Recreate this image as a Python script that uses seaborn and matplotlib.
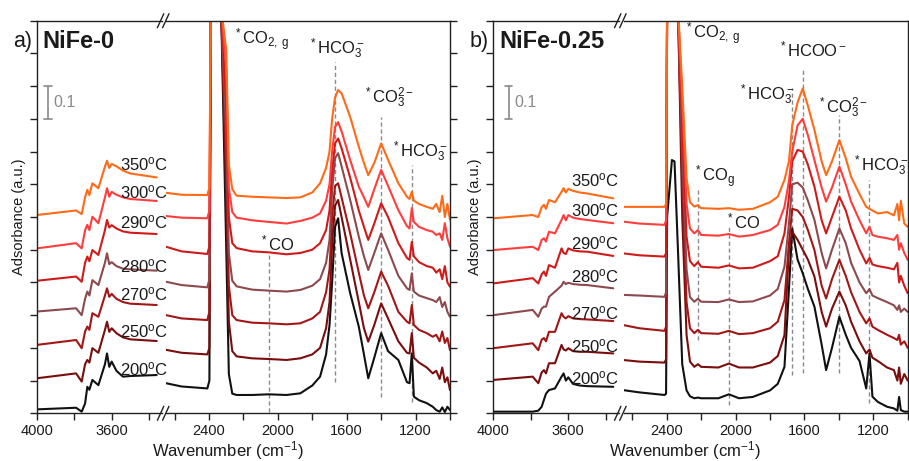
import matplotlib
matplotlib.use("Agg")
import matplotlib.pyplot as plt
from matplotlib.lines import Line2D
import pandas as pd
import seaborn as sns

# ---------------------------------------------------------------- data
temperatures = ["200", "250", "270", "280", "290", "300", "350"]
line_colors = ["#111111", "#7a0d0d", "#a31616", "#8c4a4f", "#d01a1a", "#ff3d3d", "#ff6a16"]

# high-wavenumber window (O-H region), shared by both samples
wn_hi = [4000, 3790, 3760, 3742, 3730, 3719, 3703, 3671, 3636, 3625, 3613, 3600, 3575, 3540, 3500, 3360]

nife0_hi = {
    "350": [0.606, 0.620, 0.609, 0.660, 0.683, 0.667, 0.703, 0.688, 0.754, 0.772, 0.750, 0.762, 0.755, 0.742, 0.733, 0.721],
    "300": [0.504, 0.520, 0.504, 0.560, 0.576, 0.560, 0.601, 0.581, 0.660, 0.688, 0.662, 0.677, 0.668, 0.660, 0.655, 0.649],
    "290": [0.405, 0.418, 0.402, 0.460, 0.479, 0.465, 0.499, 0.484, 0.560, 0.591, 0.568, 0.575, 0.565, 0.556, 0.552, 0.548],
    "280": [0.311, 0.321, 0.300, 0.350, 0.372, 0.360, 0.407, 0.392, 0.460, 0.489, 0.456, 0.462, 0.450, 0.442, 0.440, 0.436],
    "270": [0.209, 0.224, 0.199, 0.250, 0.265, 0.255, 0.306, 0.295, 0.360, 0.382, 0.356, 0.365, 0.350, 0.340, 0.335, 0.331],
    "250": [0.107, 0.122, 0.097, 0.150, 0.163, 0.155, 0.199, 0.185, 0.255, 0.280, 0.249, 0.260, 0.245, 0.232, 0.226, 0.221],
    "200": [0.012, 0.017, 0.005, 0.030, 0.081, 0.072, 0.102, 0.086, 0.150, 0.183, 0.142, 0.158, 0.130, 0.112, 0.114, 0.117],
}

nife025_hi = {
    "350": [0.596, 0.606, 0.600, 0.630, 0.637, 0.625, 0.652, 0.645, 0.677, 0.688, 0.675, 0.686, 0.680, 0.675, 0.672, 0.657],
    "300": [0.499, 0.509, 0.499, 0.530, 0.535, 0.525, 0.555, 0.550, 0.591, 0.606, 0.590, 0.606, 0.598, 0.594, 0.591, 0.581],
    "290": [0.397, 0.413, 0.397, 0.425, 0.433, 0.420, 0.453, 0.445, 0.504, 0.490, 0.487, 0.504, 0.498, 0.495, 0.494, 0.481],
    "280": [0.300, 0.316, 0.295, 0.320, 0.326, 0.326, 0.356, 0.372, 0.390, 0.402, 0.395, 0.399, 0.395, 0.393, 0.392, 0.382],
    "270": [0.199, 0.214, 0.193, 0.225, 0.230, 0.220, 0.249, 0.249, 0.306, 0.295, 0.290, 0.297, 0.290, 0.288, 0.287, 0.282],
    "250": [0.102, 0.112, 0.092, 0.125, 0.132, 0.122, 0.153, 0.153, 0.209, 0.195, 0.192, 0.199, 0.190, 0.188, 0.188, 0.183],
    "200": [0.005, 0.005, 0.008, 0.020, 0.041, 0.060, 0.071, 0.076, 0.112, 0.122, 0.100, 0.110, 0.090, 0.085, 0.083, 0.081],
}

# low-wavenumber window (carbonate / CO region)
wn_lo_a = [2650, 2560, 2410, 2398, 2390, 2330, 2300, 2285, 2265, 2240, 2150, 2054, 1950, 1870, 1800, 1755,
           1720, 1700, 1685, 1668, 1650, 1630, 1580, 1530, 1500, 1475, 1440, 1400, 1360, 1300, 1250, 1235,
           1222, 1210, 1180, 1135, 1100, 1080, 1060, 1045, 1030, 1015, 1000]

nife0_lo = {
    "350": [0.674, 0.668, 0.667, 0.690, 1.24, 1.24, 1.11, 0.76, 0.685, 0.665, 0.662, 0.660, 0.658, 0.660, 0.675, 0.703,
            0.750, 0.800, 0.900, 0.965, 0.988, 0.978, 0.906, 0.815, 0.765, 0.728, 0.765, 0.825, 0.775, 0.703, 0.662, 0.655,
            0.677, 0.650, 0.640, 0.631, 0.625, 0.640, 0.615, 0.665, 0.600, 0.640, 0.591],
    "300": [0.603, 0.598, 0.596, 0.620, 1.24, 1.24, 1.05, 0.69, 0.615, 0.598, 0.590, 0.585, 0.580, 0.588, 0.598, 0.611,
            0.650, 0.700, 0.800, 0.875, 0.890, 0.862, 0.774, 0.693, 0.660, 0.631, 0.685, 0.744, 0.695, 0.621, 0.572, 0.565,
            0.627, 0.585, 0.570, 0.560, 0.555, 0.545, 0.550, 0.530, 0.581, 0.535, 0.509],
    "290": [0.509, 0.495, 0.487, 0.510, 1.24, 1.24, 0.95, 0.60, 0.520, 0.505, 0.495, 0.492, 0.486, 0.490, 0.500, 0.520,
            0.560, 0.620, 0.740, 0.825, 0.840, 0.810, 0.720, 0.620, 0.570, 0.530, 0.580, 0.642, 0.600, 0.520, 0.475, 0.469,
            0.524, 0.480, 0.462, 0.450, 0.445, 0.430, 0.440, 0.410, 0.450, 0.400, 0.387],
    "280": [0.402, 0.392, 0.385, 0.410, 1.24, 1.24, 0.85, 0.49, 0.405, 0.388, 0.378, 0.375, 0.372, 0.377, 0.390, 0.410,
            0.460, 0.530, 0.680, 0.780, 0.795, 0.755, 0.652, 0.540, 0.480, 0.438, 0.490, 0.550, 0.500, 0.420, 0.382, 0.377,
            0.428, 0.372, 0.360, 0.352, 0.346, 0.340, 0.355, 0.325, 0.340, 0.310, 0.295],
    "270": [0.300, 0.290, 0.285, 0.310, 1.24, 1.24, 0.75, 0.39, 0.300, 0.285, 0.277, 0.275, 0.272, 0.275, 0.290, 0.310,
            0.370, 0.440, 0.600, 0.695, 0.703, 0.660, 0.550, 0.430, 0.360, 0.321, 0.370, 0.433, 0.390, 0.310, 0.280, 0.275,
            0.331, 0.270, 0.255, 0.245, 0.234, 0.240, 0.220, 0.250, 0.215, 0.230, 0.193],
    "250": [0.194, 0.185, 0.180, 0.200, 1.24, 1.24, 0.65, 0.28, 0.190, 0.174, 0.168, 0.166, 0.163, 0.168, 0.180, 0.200,
            0.260, 0.340, 0.520, 0.635, 0.652, 0.600, 0.470, 0.340, 0.260, 0.219, 0.270, 0.336, 0.290, 0.220, 0.185, 0.183,
            0.245, 0.170, 0.155, 0.140, 0.122, 0.130, 0.105, 0.140, 0.095, 0.110, 0.071],
    "200": [0.092, 0.082, 0.076, 0.100, 1.24, 1.24, 0.50, 0.12, 0.060, 0.056, 0.056, 0.058, 0.056, 0.061, 0.085, 0.112,
            0.180, 0.270, 0.400, 0.570, 0.596, 0.490, 0.367, 0.265, 0.180, 0.107, 0.170, 0.245, 0.190, 0.163, 0.095, 0.092,
            0.183, 0.051, 0.040, 0.031, 0.020, 0.010, 0.005, 0.018, 0.004, 0.020, 0.010],
}

wn_lo_b = [2655, 2560, 2413, 2404, 2398, 2370, 2355, 2335, 2310, 2285, 2265, 2240, 2219, 2200, 2100, 2039,
           1980, 1900, 1800, 1755, 1716, 1690, 1671, 1640, 1610, 1580, 1542, 1500, 1474, 1440, 1397, 1360,
           1329, 1280, 1241, 1222, 1205, 1174, 1120, 1080, 1060, 1050, 1040, 1020, 1000]

nife025_lo = {
    "350": [0.631, 0.631, 0.631, 0.640, 1.24, 1.24, 1.24, 1.24, 1.00, 0.72, 0.645, 0.632, 0.636, 0.627, 0.625, 0.627,
            0.622, 0.625, 0.645, 0.662, 0.713, 0.770, 0.880, 0.950, 0.993, 0.940, 0.866, 0.770, 0.728, 0.770, 0.835, 0.780,
            0.723, 0.670, 0.631, 0.625, 0.620, 0.611, 0.615, 0.605, 0.640, 0.590, 0.650, 0.580, 0.570],
    "300": [0.586, 0.580, 0.576, 0.590, 1.24, 1.24, 1.24, 1.24, 0.95, 0.64, 0.565, 0.550, 0.560, 0.545, 0.543, 0.548,
            0.540, 0.545, 0.560, 0.576, 0.631, 0.710, 0.800, 0.880, 0.900, 0.850, 0.774, 0.690, 0.647, 0.690, 0.754, 0.700,
            0.647, 0.590, 0.550, 0.570, 0.545, 0.540, 0.535, 0.530, 0.545, 0.500, 0.520, 0.490, 0.469],
    "290": [0.489, 0.483, 0.479, 0.490, 1.24, 1.24, 1.24, 1.24, 0.88, 0.54, 0.465, 0.450, 0.462, 0.448, 0.445, 0.452,
            0.443, 0.445, 0.465, 0.480, 0.550, 0.660, 0.770, 0.805, 0.800, 0.760, 0.693, 0.590, 0.550, 0.600, 0.662, 0.620,
            0.565, 0.500, 0.458, 0.475, 0.455, 0.450, 0.445, 0.440, 0.460, 0.400, 0.420, 0.390, 0.367],
    "280": [0.362, 0.360, 0.356, 0.370, 1.24, 1.24, 1.24, 1.24, 0.80, 0.44, 0.355, 0.341, 0.350, 0.341, 0.340, 0.348,
            0.340, 0.342, 0.360, 0.380, 0.448, 0.580, 0.700, 0.705, 0.690, 0.650, 0.591, 0.490, 0.443, 0.500, 0.565, 0.520,
            0.460, 0.400, 0.367, 0.380, 0.360, 0.352, 0.340, 0.330, 0.316, 0.330, 0.310, 0.320, 0.310],
    "270": [0.270, 0.260, 0.252, 0.265, 1.24, 1.24, 1.24, 1.24, 0.72, 0.34, 0.260, 0.245, 0.255, 0.245, 0.243, 0.252,
            0.242, 0.245, 0.260, 0.280, 0.346, 0.520, 0.625, 0.620, 0.600, 0.560, 0.499, 0.390, 0.351, 0.410, 0.469, 0.420,
            0.370, 0.310, 0.275, 0.290, 0.265, 0.255, 0.240, 0.230, 0.224, 0.240, 0.210, 0.220, 0.200],
    "250": [0.163, 0.158, 0.155, 0.165, 1.24, 1.24, 1.24, 1.24, 0.60, 0.24, 0.158, 0.142, 0.150, 0.142, 0.140, 0.152,
            0.140, 0.140, 0.155, 0.175, 0.239, 0.500, 0.555, 0.530, 0.500, 0.470, 0.418, 0.310, 0.265, 0.320, 0.372, 0.330,
            0.280, 0.220, 0.183, 0.195, 0.170, 0.160, 0.140, 0.132, 0.100, 0.140, 0.090, 0.120, 0.100],
    "200": [0.071, 0.064, 0.056, 0.060, 0.600, 0.774, 0.770, 0.500, 0.150, 0.070, 0.052, 0.046, 0.048, 0.046, 0.046, 0.058,
            0.046, 0.050, 0.070, 0.090, 0.142, 0.380, 0.565, 0.470, 0.428, 0.380, 0.326, 0.210, 0.132, 0.200, 0.295, 0.240,
            0.200, 0.160, 0.076, 0.183, 0.051, 0.035, 0.020, 0.015, 0.008, 0.050, 0.010, 0.005, 0.005],
}

# temperature tags next to the O-H window (absorbance of the text anchor)
temp_label_pos_a = {"350": 0.762, "300": 0.677, "290": 0.585, "280": 0.450, "270": 0.365, "250": 0.250, "200": 0.134}
temp_label_pos_b = {"350": 0.713, "300": 0.621, "290": 0.520, "280": 0.418, "270": 0.306, "250": 0.206, "200": 0.107}

# band assignments: wavenumber, top and bottom of the guide line
bands_a = [(1668, 1.074, 0.096), (1400, 0.906, 0.050), (1222, 0.759, 0.035), (2054, 0.493, 0.004)]
bands_b = [(2219, 0.689, 0.224), (2039, 0.569, 0.025), (1671, 0.994, 0.117),
           (1606, 1.049, 0.123), (1397, 0.912, 0.123), (1222, 0.713, 0.032)]

labels_a = [(2262, 1.141, "$^*$CO$_{2,\\ g}$", "left"), (1659, 1.115, "$^*$HCO$_3^-$", "center"),
            (1357, 0.965, "$^*$CO$_3^{2-}$", "center"), (1180, 0.800, "$^*$HCO$_3^-$", "center"),
            (2010, 0.520, "$^*$CO", "center")]
labels_b = [(2299, 1.160, "$^*$CO$_{2,\\ g}$", "left"), (1555, 1.112, "$^*$HCOO$^-$", "center"),
            (1822, 0.975, "$^*$HCO$_3^-$", "center"), (1381, 0.935, "$^*$CO$_3^{2-}$", "center"),
            (1162, 0.758, "$^*$HCO$_3^-$", "center"), (2127, 0.722, "$^*$CO$_g$", "center"),
            (1962, 0.585, "$^*$CO", "center")]

scale_bar = 0.1

# ---------------------------------------------------------------- style
sns.set_theme(style="ticks")
plt.rcParams["font.family"] = ["Liberation Sans", "DejaVu Sans"]
plt.rcParams["mathtext.fontset"] = "custom"
plt.rcParams["mathtext.rm"] = "Liberation Sans"
plt.rcParams["mathtext.it"] = "Liberation Sans:italic"
plt.rcParams["mathtext.bf"] = "Liberation Sans:bold"
plt.rcParams["mathtext.default"] = "regular"

W, H = 909, 461
AX_TOP, AX_BOT = 20.7, 413.3
TXT = "#1a1a1a"
GUIDE = "#8a8a8a"

fig = plt.figure(figsize=(W / 100, H / 100), dpi=100)


def axes_px(x0, x1):
    return fig.add_axes([x0 / W, (H - AX_BOT) / H, (x1 - x0) / W, (AX_BOT - AX_TOP) / H])


def long_frame(wn, series):
    frames = []
    for t in temperatures:
        frames.append(pd.DataFrame({"wn": wn, "A": series[t], "T": t}))
    return pd.concat(frames, ignore_index=True)


def style_axes(ax, side):
    ax.set_ylim(0, 1.2)
    ax.set_yticks([i / 10 for i in range(13)])
    ax.set_yticklabels([])
    ax.set_xlabel("")
    ax.set_ylabel("")
    for s in ax.spines.values():
        s.set_color("#222222")
        s.set_linewidth(1.0)
    ax.tick_params(axis="both", which="both", direction="out", length=5, width=1.0,
                   colors="#222222", labelsize=10.5, labelcolor=TXT, pad=3)
    if side == "left":
        ax.spines["right"].set_visible(False)
        ax.tick_params(axis="y", left=True, right=False)
    else:
        ax.spines["left"].set_visible(False)
        ax.yaxis.tick_right()
        ax.tick_params(axis="y", left=False, right=True, labelright=False)
    ax.set_facecolor("none")


def slash(xc, yc):
    for dx in (-2.6, 2.6):
        x0, y0 = xc + dx - 3.2, yc + 7
        x1, y1 = xc + dx + 3.2, yc - 7
        fig.add_artist(Line2D([x0 / W, x1 / W], [(H - y0) / H, (H - y1) / H],
                              color="#222222", lw=1.0, transform=fig.transFigure))


def panel(x_left, x_right, hi, lo, wn_lo, temp_pos, bands, labels, tag, title, sb_x, lab_wn):
    hi_w = 670 * 0.1875
    lo_w = 1650 * 0.1721
    ax_h = axes_px(x_left, x_left + hi_w)
    ax_l = axes_px(x_right - lo_w, x_right)

    sns.lineplot(data=long_frame(wn_hi, hi), x="wn", y="A", hue="T", hue_order=temperatures,
                 palette=line_colors, sort=False, estimator=None, legend=False, lw=1.5, ax=ax_h)
    sns.lineplot(data=long_frame(wn_lo, lo), x="wn", y="A", hue="T", hue_order=temperatures,
                 palette=line_colors, sort=False, estimator=None, legend=False, lw=1.5, ax=ax_l)

    ax_h.set_xlim(4000, 3330)
    ax_h.set_xticks([4000, 3600])
    ax_h.set_xticks([3800, 3400], minor=True)
    ax_l.set_xlim(2650, 1000)
    ax_l.set_xticks([2400, 2000, 1600, 1200])
    ax_l.set_xticks([2600, 2200, 1800, 1400, 1000], minor=True)
    style_axes(ax_h, "left")
    style_axes(ax_l, "right")

    # band guides
    for wn, top, bot in bands:
        ax_l.plot([wn, wn], [bot, top], color=GUIDE, lw=1.0, ls=(0, (3, 2)), zorder=0.5)

    # band names
    for wn, y, txt, ha in labels:
        ax_l.text(wn, y, txt, ha=ha, va="center", fontsize=12, color=TXT, clip_on=False)

    # temperature tags
    for t in temperatures:
        ax_h.text(lab_wn, temp_pos[t], f"{t}$^{{o}}$C", ha="left", va="center",
                  fontsize=12, color=TXT, clip_on=False)

    # absorbance scale bar
    y0, y1 = 0.9, 0.9 + scale_bar
    ax_h.plot([sb_x, sb_x], [y0, y1], color=GUIDE, lw=1.2, solid_capstyle="butt")
    for yy in (y0, y1):
        ax_h.plot([sb_x - 20, sb_x + 20], [yy, yy], color=GUIDE, lw=1.2)
    ax_h.text(sb_x - 28, (y0 + y1) / 2, f"{scale_bar:g}", ha="left", va="center",
              fontsize=11.5, color=GUIDE)

    # axis break marks
    gap_c = (x_left + hi_w + x_right - lo_w) / 2
    slash(gap_c - 1, AX_TOP)
    slash(gap_c - 1, AX_BOT)

    # panel tag and sample name
    fig.text((x_left - 24) / W, (H - 42) / H, tag, ha="left", va="center", fontsize=15.5, color=TXT)
    fig.text((x_left + 6) / W, (H - 42) / H, title, ha="left", va="center", fontsize=17,
             fontweight="bold", color=TXT)

    # axis titles
    fig.text((x_left + 191.5) / W, (H - 451) / H, "Wavenumber (cm$^{-1}$)", ha="center", va="center",
             fontsize=12, color=TXT)
    fig.text((x_left - 18) / W, (H - 217) / H, "Adsorbance (a.u.)", ha="center", va="center",
             rotation=90, fontsize=10.5, color=TXT)


panel(36.7, 450.0, nife0_hi, nife0_lo, wn_lo_a, temp_label_pos_a, bands_a, labels_a,
      "a)", "NiFe-0", 3940, 3556)
panel(493.3, 907.7, nife025_hi, nife025_lo, wn_lo_b, temp_label_pos_b, bands_b, labels_b,
      "b)", "NiFe-0.25", 3918, 3586)

fig.savefig("out.png", dpi=100, facecolor="white")
